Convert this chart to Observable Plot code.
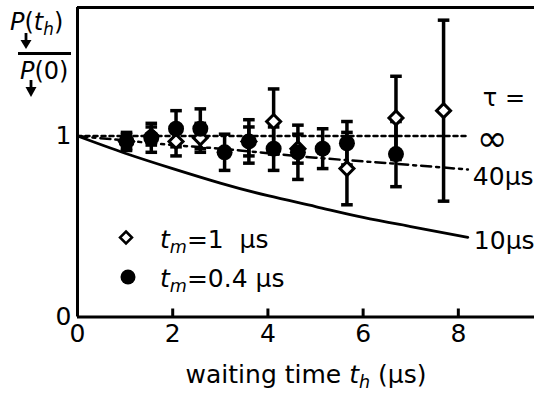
<!DOCTYPE html>
<html><head><meta charset="utf-8">
<script src="https://cdn.jsdelivr.net/npm/d3@7"></script>
<script src="https://cdn.jsdelivr.net/npm/@observablehq/plot@0.6"></script>
<style>
body{margin:0;background:#fff;}
#wrap{position:relative;width:534px;height:393px;font-family:"DejaVu Sans",sans-serif;color:#000;overflow:hidden;}
#wrap svg.plot{position:absolute;left:0;top:0;}
.ov{position:absolute;white-space:nowrap;font-size:25px;line-height:1;}
.ov sub{font-size:0.7em;vertical-align:baseline;position:relative;top:0.3em;}
</style></head><body>
<div id="wrap"></div>
<script>
// ---- data ----
const tCircle   = [1.03, 1.55, 2.07, 2.58, 3.09, 3.6, 4.12, 4.63, 5.15, 5.66, 6.69];
const vCircle   = [0.97, 0.99, 1.04, 1.04, 0.91, 0.97, 0.93, 0.91, 0.93, 0.96, 0.90];
const eCircle   = [0.05, 0.08, 0.10, 0.11, 0.10, 0.12, 0.12, 0.15, 0.11, 0.12, 0.18];
const tDiamond  = [1.03, 1.55, 2.07, 2.58, 3.6, 4.12, 4.63, 5.66, 6.69, 7.69];
const vDiamond  = [0.97, 1.00, 0.97, 0.99, 0.97, 1.08, 0.93, 0.82, 1.10, 1.14];
const eDiamond  = [0.04, 0.05, 0.08, 0.08, 0.08, 0.18, 0.08, 0.20, 0.23, 0.50];
const curveT    = [0, 1, 2, 3, 4, 5, 6, 7, 8.2];
const curveInf  = [1, 1, 1, 1, 1, 1, 1, 1, 1];
const curve40   = [1.00, 0.975, 0.95, 0.93, 0.905, 0.88, 0.86, 0.84, 0.815];
const curve10   = [1.00, 0.905, 0.82, 0.74, 0.67, 0.61, 0.55, 0.50, 0.44];
const curveLabels = ["∞", "40μs", "10μs"];
const xTicks = [0, 2, 4, 6, 8];
const yTicks = [0, 1];
const xMax = 9.6, yMax = 1.71;

// ---- build tables ----
const circles  = tCircle.map((t, i) => ({t, v: vCircle[i], e: eCircle[i]}));
const diamonds = tDiamond.map((t, i) => ({t, v: vDiamond[i], e: eDiamond[i]}));
const allPts = diamonds.concat(circles);
const toRows = arr => curveT.map((t, i) => ({t, v: arr[i]}));
const last = arr => ({t: curveT[curveT.length - 1], v: arr[arr.length - 1]});

const W = 534, H = 393, mL = 77, mT = 7, mB = 76.5, mR = 0;
const pxPerY = (H - mT - mB) / yMax;
const cap = {draw(ctx, size) { const r = Math.sqrt(size / Math.PI); ctx.moveTo(-r, 0); ctx.lineTo(r, 0); }};

const plot = Plot.plot({
  width: W, height: H,
  marginLeft: mL, marginTop: mT, marginBottom: mB, marginRight: mR,
  style: {fontFamily: "DejaVu Sans", fontSize: "25px", color: "black", background: "white"},
  x: {domain: [0, xMax]},
  y: {domain: [0, yMax]},
  marks: [
    Plot.axisX({ticks: xTicks, tickSize: 0, tickPadding: 7, fontSize: 25, label: null, tickFormat: d => String(d)}),
    Plot.axisY({ticks: yTicks, tickSize: 0, tickPadding: 6, fontSize: 25, label: null, tickFormat: d => String(d)}),
    Plot.ruleX(xTicks.slice(1), {y1: 0, y2: 8 / pxPerY, stroke: "black", strokeWidth: 3}),
    Plot.line(toRows(curveInf), {x: "t", y: "v", stroke: "black", strokeWidth: 2.5, strokeDasharray: "4,4"}),
    Plot.line(toRows(curve40), {x: "t", y: "v", stroke: "black", strokeWidth: 2.5, strokeDasharray: "10,5,3,5", curve: "natural"}),
    Plot.line(toRows(curve10), {x: "t", y: "v", stroke: "black", strokeWidth: 2.8, curve: "natural"}),
    Plot.text([last(curveInf)], {x: "t", y: "v", text: () => curveLabels[0], textAnchor: "start", dx: 9, dy: 3, fontSize: 37}),
    Plot.text([last(curveInf)], {x: "t", y: "v", text: () => "τ =", textAnchor: "start", dx: 15, dy: -38, fontSize: 24}),
    Plot.text([last(curve40)], {x: "t", y: "v", text: () => curveLabels[1], textAnchor: "start", dx: 5, dy: 8, fontSize: 25}),
    Plot.text([last(curve10)], {x: "t", y: "v", text: () => curveLabels[2], textAnchor: "start", dx: 6, dy: 4, fontSize: 25}),
    Plot.ruleX(allPts, {x: "t", y1: d => d.v - d.e, y2: d => d.v + d.e, stroke: "black", strokeWidth: 3.5}),
    Plot.dot(allPts, {x: "t", y: d => d.v + d.e, symbol: cap, r: 5.8, stroke: "black", strokeWidth: 3.5, fill: "none"}),
    Plot.dot(allPts, {x: "t", y: d => d.v - d.e, symbol: cap, r: 5.8, stroke: "black", strokeWidth: 3.5, fill: "none"}),
    Plot.dot(diamonds, {x: "t", y: "v", symbol: "diamond2", r: 6.3, fill: "white", stroke: "black", strokeWidth: 3}),
    Plot.dot(circles, {x: "t", y: "v", r: 8, fill: "black", stroke: "none"}),
    Plot.ruleX([0], {stroke: "black", strokeWidth: 3}),
    Plot.ruleY([0], {stroke: "black", strokeWidth: 3}),
    Plot.ruleY([yMax], {stroke: "black", strokeWidth: 3})
  ]
});
plot.classList.add("plot");
const wrap = document.getElementById("wrap");
wrap.appendChild(plot);

function addHTML(html) { wrap.insertAdjacentHTML("beforeend", html); }
// y-axis label (fraction)
addHTML('<div class="ov" style="left:10px;top:10px;font-size:24px"><i>P</i>(<i>t</i><sub><i>h</i></sub>)</div>');
addHTML('<div style="position:absolute;left:18px;top:52px;width:53px;height:2.5px;background:#000"></div>');
addHTML('<div class="ov" style="left:20px;top:59px;font-size:24px"><i>P</i>(0)</div>');
addHTML('<svg style="position:absolute;left:0;top:0" width="80" height="110">' +
  '<line x1="26" y1="33" x2="26" y2="42" stroke="#000" stroke-width="2.8"/><path d="M20.5,40 L31.5,40 L26,49 Z" fill="#000"/>' +
  '<line x1="31" y1="80" x2="31" y2="89" stroke="#000" stroke-width="2.8"/><path d="M25.5,87 L36.5,87 L31,97 Z" fill="#000"/></svg>');
// x-axis label
addHTML('<div class="ov" style="left:306px;top:362px;transform:translateX(-50%)">waiting time <i>t</i><sub><i>h</i></sub> (μs)</div>');
// legend
addHTML('<svg style="position:absolute;left:100px;top:220px" width="50" height="80">' +
  '<path d="M26,11.5 L32,17.5 L26,23.5 L20,17.5 Z" fill="#fff" stroke="#000" stroke-width="2.5"/>' +
  '<circle cx="28" cy="57" r="7.5" fill="#000"/></svg>');
addHTML('<div class="ov" style="left:160px;top:227px"><i>t</i><sub><i>m</i></sub>=1&nbsp; μs</div>');
addHTML('<div class="ov" style="left:160px;top:266px"><i>t</i><sub><i>m</i></sub>=0.4 μs</div>');
</script>
</body></html>
